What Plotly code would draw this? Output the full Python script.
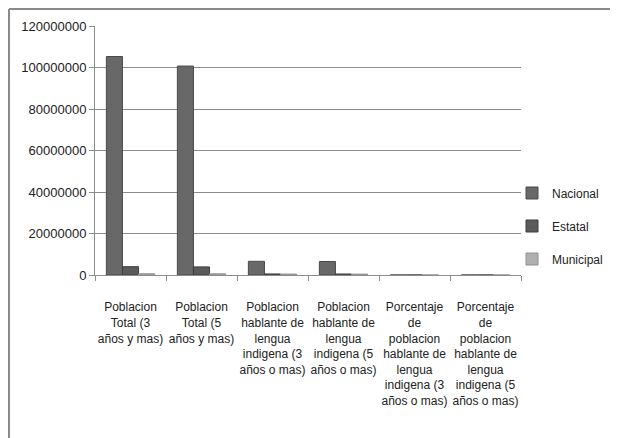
import plotly.graph_objects as go

categories = [
    "Poblacion<br>Total (3<br>años y mas)",
    "Poblacion<br>Total (5<br>años y mas)",
    "Poblacion<br>hablante de<br>lengua<br>indigena (3<br>años o mas)",
    "Poblacion<br>hablante de<br>lengua<br>indigena (5<br>años o mas)",
    "Porcentaje<br>de<br>poblacion<br>hablante de<br>lengua<br>indigena (3<br>años o mas)",
    "Porcentaje<br>de<br>poblacion<br>hablante de<br>lengua<br>indigena (5<br>años o mas)",
]
nacional = [105300000, 100700000, 6600000, 6500000, 6.6, 6.7]
estatal = [4000000, 3900000, 500000, 480000, 12.0, 12.3]
municipal = [600000, 580000, 450000, 430000, 70.0, 71.0]
y_ticks = [0, 20000000, 40000000, 60000000, 80000000, 100000000, 120000000]

# page body has an 8px margin; figure coordinates compensate for it
OFF = 8
W, H = 618, 438
L, T = 95 - OFF, 26 - OFF
R = W - (521 - OFF)
B = H - (275 - OFF)
pw, ph = W - L - R, H - T - B

fig = go.Figure()
series = [("Nacional", nacional, "#686868", "#4a4a4a"),
          ("Estatal", estatal, "#5a5a5a", "#3e3e3e"),
          ("Municipal", municipal, "#b0b0b0", "#909090")]
for i, (name, vals, col, edge) in enumerate(series):
    fig.add_trace(go.Bar(name=name, x=categories, y=vals, legendgroup=str(i),
                         marker=dict(color=col, line=dict(color=edge, width=1))))

def px_x(x):
    return (x - OFF - L) / pw

def px_y(y):
    return (H - B - (y - OFF)) / ph

fig.update_layout(
    width=W, height=H,
    margin=dict(l=L, r=R, t=T, b=B),
    paper_bgcolor="white", plot_bgcolor="white",
    barmode="group", bargap=0.32, bargroupgap=0,
    font=dict(family="Liberation Sans", size=12, color="#222222"),
    showlegend=True,
    legend=dict(x=px_x(512), y=px_y(226), xanchor="left", yanchor="middle",
                font=dict(size=12), tracegroupgap=14, bgcolor="rgba(0,0,0,0)"),
    xaxis=dict(type="category", showgrid=False, showline=True, linecolor="#8c8c8c",
               ticks="outside", ticklen=5, tickcolor="#8c8c8c", tickson="boundaries",
               tickangle=0, tickfont=dict(size=12), ticklabelstandoff=21),
    yaxis=dict(range=[0, 120000000], tickvals=y_ticks, ticktext=[str(v) for v in y_ticks],
               showgrid=True, gridcolor="#8c8c8c", gridwidth=1, showline=True,
               linecolor="#8c8c8c", ticks="outside", ticklen=5, tickcolor="#8c8c8c",
               zeroline=False, tickfont=dict(size=13)),
    shapes=[
        dict(type="line", xref="paper", yref="paper", x0=px_x(9), x1=px_x(640),
             y0=px_y(9), y1=px_y(9), line=dict(color="#8a8a8a", width=2)),
        dict(type="line", xref="paper", yref="paper", x0=px_x(9), x1=px_x(9),
             y0=px_y(9), y1=px_y(460), line=dict(color="#8a8a8a", width=2)),
    ],
)

fig.write_html("out.html")
